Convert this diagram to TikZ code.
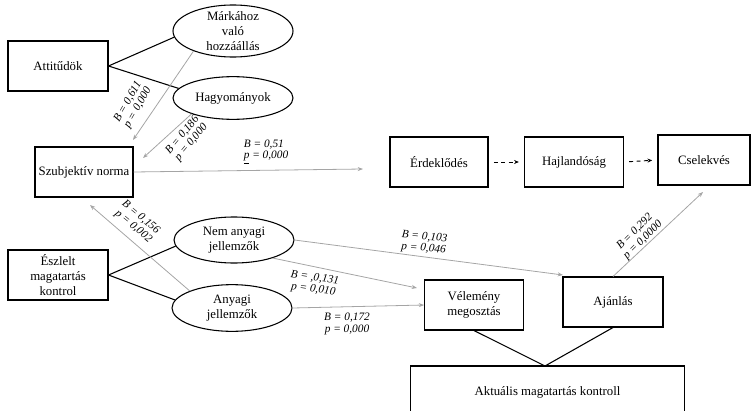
\documentclass[tikz,border=0pt]{standalone}
\usepackage{fontspec}
\setmainfont{Liberation Serif}
\usetikzlibrary{arrows.meta,shapes.geometric}
\definecolor{pathgray}{RGB}{165,165,165}
\tikzset{
  txt/.style={font=\fontsize{9.6}{11.5}\selectfont},
  box/.style={draw, line width=0.8pt, minimum width=#1, minimum height=37.5pt, inner sep=1pt, align=center, txt},
  box/.default=75pt,
  oval/.style={draw, ellipse, line width=0.8pt, minimum width=90pt, minimum height=#1, inner xsep=0pt, inner ysep=-6pt, align=center, txt},
  oval/.default=34.5pt,
  link/.style={line width=0.8pt},
  effect/.style={draw=pathgray, line width=0.6pt, -{Stealth[length=4pt,width=3pt]}},
  flow/.style={line width=0.7pt, dash pattern=on 3pt off 2.5pt, -{Stealth[length=3.5pt,width=3pt]}, shorten <=4pt, shorten >=4pt},
  coef/.style={font=\fontsize{8.5}{8.6}\selectfont\itshape, align=center, inner sep=1pt}
}
\begin{document}
\begin{tikzpicture}[x=0.75pt,y=-0.75pt]
\useasboundingbox (0,0) rectangle (752,410);
\clip (0,0) rectangle (752,410);

% constructs on the left
\node[box] (att) at (58,66) {Attitűdök};
\node[oval=39pt] (brand) at (233,31) {Márkához\\való\\hozzáállás};
\node[oval=32pt] (trad) at (233,98) {Hagyományok};
\node[box=73.5pt] (norm) at (84,172) {Szubjektív norma};
\node[box] (perc) at (58,275) {Észlelt\\magatartás\\kontrol};
\node[oval=34.5pt] (nonmat) at (234,240) {Nem anyagi\\jellemzők};
\node[oval=35pt] (mat) at (232,308) {Anyagi\\jellemzők};

% purchase stages
\node[box=73.5pt] (int) at (439,162) {Érdeklődés};
\node[box=74pt] (will) at (574,162) {Hajlandóság};
\node[box=69pt] (act) at (704,160) {Cselekvés};

% outcomes
\node[box=74pt] (share) at (474,305) {Vélemény\\megosztás};
\node[box=75pt] (rec) at (613,302) {Ajánlás};
\node[draw, line width=0.8pt, minimum width=206pt, minimum height=42pt] (ctrl) at (547.5,394) {};
\node[txt] (ctrltext) at (547.5,392) {Aktuális magatartás kontroll};
\coordinate (ctrltop) at (545,366);

% structural links
\draw[link] (att.east) -- (brand.186);
\draw[link] (att.east) -- (trad.170);
\draw[link] (perc.east) -- (nonmat.186);
\draw[link] (perc.east) -- (mat.172);
\draw[link] (share.south) -- (ctrltop);
\draw[link] (rec.south) -- (ctrltop);

% stage sequence
\draw[flow] (int.east) -- (will.west);
\draw[flow] (will.east) -- (act.west);

% estimated effects
\coordinate (normin1) at (133,140);
\coordinate (normin2) at (143,158);
\coordinate (normbot) at (90,205);
\coordinate (intin) at (363,169);
\coordinate (recin) at (563,275);
\coordinate (sharein) at (417,288);
\coordinate (actin) at (703,192);
\draw[effect] (brand.207) -- (normin1);
\draw[effect] (trad.201) -- (normin2);
\draw[effect] (norm.east) -- (intin);
\draw[effect] (mat.158) -- (normbot);
\draw[effect] (nonmat.east) -- (recin);
\draw[effect] (nonmat.335) -- (sharein);
\draw[effect] (mat.east) -- (share.west);
\draw[effect] (rec.north) -- (actin);

% coefficients
\node[coef, rotate=60] (c1) at (133,105) {B = 0,611\\p = 0,000};
\node[coef, rotate=50] (c2) at (187,139) {B = 0,186\\p = 0,000};
\node[coef, align=left] (c3) at (266,152) {B = 0,51\\\underline{p} = 0,000};
\node[coef, rotate=-40] (c4) at (137,222) {B = 0,156\\p = 0,002};
\node[coef, rotate=-5] (c5) at (424,243) {B = 0,103\\p = 0,046};
\node[coef, rotate=-8] (c6) at (314,284) {B = ,0,131\\p = 0,010};
\node[coef] (c7) at (347,324) {B = 0,172\\p = 0,000};
\node[coef, rotate=45] (c8) at (639,236) {B = 0,292\\p = 0,0000};
\end{tikzpicture}
\end{document}
